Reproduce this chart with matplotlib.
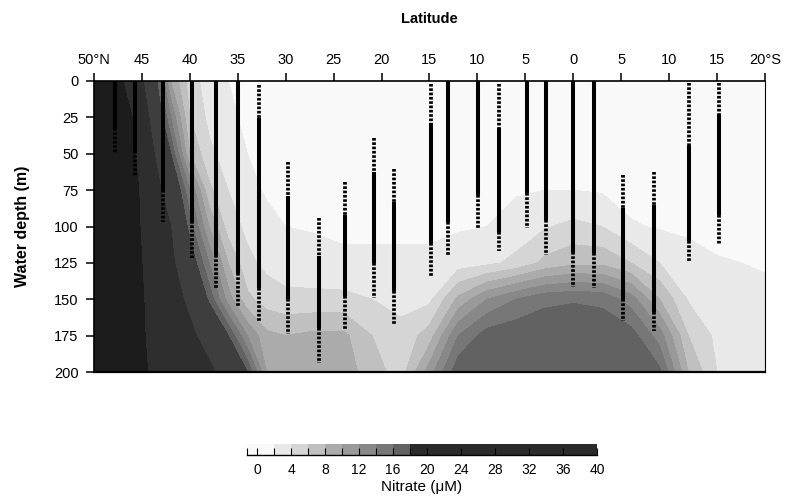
import numpy as np
import matplotlib
matplotlib.use('Agg')
import matplotlib.pyplot as plt
from matplotlib.colors import ListedColormap, BoundaryNorm
import matplotlib.cm as cm

plt.rcParams['font.family'] = ['Liberation Sans', 'DejaVu Sans']

# ---- nitrate section, rows = depth, cols = latitude (N +, S -)
lats = [50, 48, 46, 44, 42, 40, 38, 36, 34, 32, 30, 27, 24, 21, 18, 15, 12, 9, 6, 3, 0, -3, -6, -9, -12, -15, -20]
depths = [0, 25, 50, 75, 100, 125, 150, 175, 200]
nitrate = [
    [33, 32, 28, 21, 10, 5, 3, 2, 1.5, 1, 0.8, 0.5, 0.5, 0.5, 0.5, 0.5, 0.5, 0.5, 0.8, 1, 1, 0.8, 0.5, 0.3, 0.3, 0.3, 0.3],
    [34, 33, 30, 23, 14, 6, 3.5, 2.5, 1.5, 1, 0.8, 0.6, 0.5, 0.5, 0.5, 0.5, 0.6, 0.8, 1, 1.2, 1.2, 1, 0.6, 0.4, 0.4, 0.4, 0.4],
    [35, 34, 31, 25, 18, 8, 4.5, 3, 2, 1.2, 1, 0.7, 0.6, 0.6, 0.6, 0.6, 0.7, 1, 1.3, 1.5, 1.5, 1.2, 0.8, 0.6, 0.5, 0.5, 0.5],
    [36, 35, 32, 26, 22, 14, 6.5, 4, 2.5, 1.8, 1.2, 1, 1, 1, 1, 1, 1.2, 1.5, 1.8, 2, 2, 1.8, 1.3, 1, 0.8, 0.8, 0.8],
    [37, 36, 32, 27, 24, 17, 10, 5, 3.5, 2.5, 2, 1.8, 1.5, 1.5, 1.5, 1.5, 1.8, 2, 2.8, 3.8, 4.5, 4, 2.2, 1.8, 1.5, 1.2, 1],
    [38, 37, 33, 27, 25, 20, 14, 8, 4.5, 3.5, 3, 2.8, 2.5, 2.5, 2.5, 2.5, 3, 3.5, 4.5, 6.5, 7.5, 7.5, 6, 4, 3, 2.2, 1.8],
    [39, 38, 33, 28, 26, 23, 17.5, 11, 6.5, 5, 4.5, 4.5, 4.5, 4, 3.5, 3.5, 8.5, 12, 14, 15.5, 15.8, 15.5, 13, 8, 3.8, 3, 2.5],
    [40, 38, 34, 28, 27, 25, 22, 18, 12, 8.5, 8, 8.5, 8.5, 6, 4.5, 7, 14, 17, 17.5, 17.5, 17.5, 17.5, 17, 13, 6, 3.5, 3],
    [40, 38, 34, 29, 27, 26, 25, 22, 18, 10, 9, 9, 9, 7, 5, 11, 17.5, 17.5, 17.5, 17.5, 17.5, 17.5, 17.5, 16.5, 8, 4, 3],
]

fill_levels = [-1.2, 0, 2, 4, 6, 8, 10, 12, 14, 16, 18, 24, 30, 40]
fill_colors = ['#f9f9f9', '#f9f9f9', '#e9e9e9', '#d5d5d5', '#c0c0c0', '#ababab', '#999999',
               '#888888', '#777777', '#626262', '#3e3e3e', '#2e2e2e', '#1c1c1c']

# ---- sampling stations: latitude, top of upper dotted part, top of solid, bottom of solid, bottom of lower dotted
st_lat = [47.8, 45.7, 42.8, 39.8, 37.3, 35.0, 32.8, 29.8, 26.5, 23.8, 20.8, 18.7,
          14.8, 13.1, 9.9, 7.8, 4.8, 2.8, 0.0, -2.2, -5.2, -8.4, -12.1, -15.2]
dot_top = [0, 0, 0, 0, 0, 0, 2.5, 56, 94, 69.5, 39, 60.5,
           2, 0, 0, 2, 0, 0, 0, 0, 64.5, 62.5, 1.5, 1.5]
solid_top = [0, 0, 0, 0, 0, 0, 25.5, 79, 120, 92, 62.5, 83,
             29, 0, 0, 32, 0, 0, 0, 0, 87, 85, 45, 23.5]
solid_bot = [32, 48, 75, 96, 119.5, 132, 142, 150, 169.5, 148, 125, 144,
             111, 97, 78.5, 104, 77, 95.5, 117.5, 118, 150, 158.5, 110, 92]
dot_bot = [49.5, 65, 97, 121.5, 143, 155, 165, 174, 193.5, 171, 149, 168,
           135, 119.5, 102, 117, 101, 119.5, 141.5, 142, 165, 172, 124, 113]

lat_ticks = [50, 45, 40, 35, 30, 25, 20, 15, 10, 5, 0, -5, -10, -15, -20]
lat_labels = ['50°N', '45', '40', '35', '30', '25', '20', '15', '10', '5', '0', '5', '10', '15', '20°S']
depth_ticks = [0, 25, 50, 75, 100, 125, 150, 175, 200]

cbar_bounds = [-1.2, 0, 2, 4, 6, 8, 10, 12, 14, 16, 18, 40]
cbar_colors = fill_colors[:10] + ['#2a2a2a']
cbar_ticks = [0, 4, 8, 12, 16, 20, 24, 28, 32, 36, 40]

W, H = 790, 496
fig = plt.figure(figsize=(W / 100, H / 100), dpi=100)
ax = fig.add_axes([94 / W, 1 - 372 / H, (765 - 94) / W, (372 - 81) / H])

ax.contourf(lats, depths, np.array(nitrate), levels=fill_levels, colors=fill_colors)

for i in range(len(st_lat)):
    x = st_lat[i]
    if dot_top[i] < solid_top[i]:
        ax.plot([x, x], [dot_top[i], solid_top[i]], color='black', lw=2.7,
                linestyle=(0, (0.7, 0.45)), dash_capstyle='butt')
    ax.plot([x, x], [solid_top[i], solid_bot[i]], color='black', lw=2.9,
            solid_capstyle='butt')
    ax.plot([x, x], [solid_bot[i], dot_bot[i]], color='black', lw=2.7,
            linestyle=(0, (0.7, 0.45)), dash_capstyle='butt')

ax.set_xlim(50, -20)
ax.set_ylim(200, 0)
ax.xaxis.tick_top()
ax.xaxis.set_label_position('top')
ax.set_xticks(lat_ticks)
ax.set_xticklabels(lat_labels)
ax.set_yticks(depth_ticks)
ax.tick_params(axis='both', direction='out', length=6, width=1.1, labelsize=10.5, pad=4)
ax.tick_params(axis='y', pad=5)
ax.set_xlabel('Latitude', fontsize=10.5, fontweight='bold', labelpad=22)
ax.set_ylabel('Water depth (m)', fontsize=11.5, fontweight='bold', labelpad=17)
for side in ['top', 'left']:
    ax.spines[side].set_linewidth(1.2)
ax.spines['bottom'].set_linewidth(1.6)
ax.spines['right'].set_linewidth(0.8)

# ---- colour bar
cax = fig.add_axes([247 / W, 1 - 455 / H, (597 - 247) / W, 11 / H])
norm = BoundaryNorm(cbar_bounds, len(cbar_colors))
sm = cm.ScalarMappable(norm=norm, cmap=ListedColormap(cbar_colors))
cb = fig.colorbar(sm, cax=cax, orientation='horizontal', spacing='proportional',
                  boundaries=cbar_bounds, ticks=cbar_ticks)
cb.outline.set_visible(False)
cax.spines['bottom'].set_visible(True)
cax.spines['bottom'].set_linewidth(1.0)
cax.set_xticks(cbar_bounds[:-1], minor=True)
cax.tick_params(axis='x', which='both', direction='in', length=5, width=0.8,
                labelsize=10, pad=6)
cb.set_label('Nitrate (μM)', fontsize=11, labelpad=2)

fig.savefig('out.png', dpi=100)
